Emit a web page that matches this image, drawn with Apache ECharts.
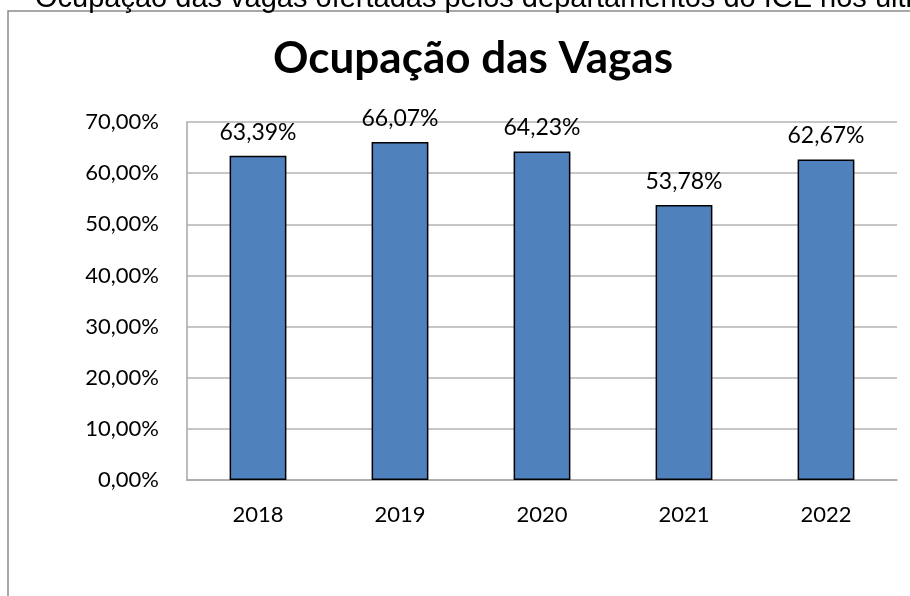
<!DOCTYPE html>
<html>
<head>
<meta charset="utf-8">
<script src="https://cdn.jsdelivr.net/npm/echarts@6/dist/echarts.min.js"></script>
<style>
html, body { margin: 0; padding: 0; background: #fff; }
#container { width: 910px; height: 596px; }
</style>
</head>
<body>
<div id="container"></div>
<script>
var anos = ['2018', '2019', '2020', '2021', '2022'];
var ocupacao = [63.39, 66.07, 64.23, 53.78, 62.67];
var eixoMin = 0, eixoMax = 70, eixoPasso = 10;

function pct(v) {
    return v.toFixed(2).replace('.', ',') + '%';
}

var dom = document.getElementById("container");
var myChart = echarts.init(dom);
var option = {
    backgroundColor: '#fff',
    animation: false,
    textStyle: { fontFamily: 'Lato' },
    title: {
        text: 'Ocupação das Vagas',
        left: 468,
        textAlign: 'center',
        top: 32,
        textStyle: { fontFamily: 'Lato', fontWeight: 'bold', fontSize: 44, color: '#000' }
    },
    graphic: [
        {
            type: 'rect',
            shape: { x: 8, y: 11, width: 1000, height: 700 },
            style: { fill: null, stroke: '#8c8c8c', lineWidth: 1.5 },
            silent: true
        },
        {
            // caption from the page above the chart, mostly cut off
            type: 'text',
            x: 35, y: -16,
            style: {
                text: 'Ocupação das vagas ofertadas pelos departamentos do ICE nos últimos anos',
                fontFamily: 'Liberation Sans',
                fontSize: 29,
                fill: '#000'
            },
            silent: true
        }
    ],
    grid: { left: 187, right: 13, top: 122, bottom: 116 },
    xAxis: {
        type: 'category',
        data: anos,
        axisLine: { lineStyle: { color: '#a6a6a6', width: 1.5 } },
        axisTick: { show: false },
        axisLabel: { color: '#000', fontSize: 22, margin: 24 }
    },
    yAxis: {
        type: 'value',
        min: eixoMin,
        max: eixoMax,
        interval: eixoPasso,
        axisLine: { show: true, lineStyle: { color: '#a6a6a6', width: 1.5 } },
        axisTick: { show: false },
        splitLine: { lineStyle: { color: '#b3b3b3', width: 1.5 } },
        axisLabel: { color: '#000', fontSize: 22, margin: 28, formatter: pct }
    },
    series: [{
        type: 'bar',
        data: ocupacao,
        barWidth: '40%',
        itemStyle: { color: '#4f81bd', borderColor: '#000', borderWidth: 1.5 },
        label: {
            show: true,
            position: 'top',
            distance: 12,
            color: '#000',
            fontSize: 23,
            formatter: function (p) { return pct(p.value); }
        }
    }]
};
myChart.setOption(option);
</script>
</body>
</html>
